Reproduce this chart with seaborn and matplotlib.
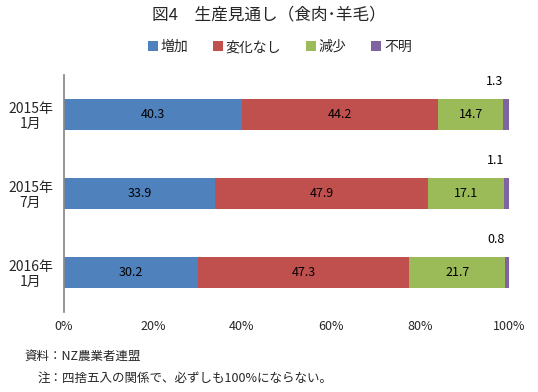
import matplotlib
matplotlib.use("Agg")
import matplotlib.pyplot as plt
import pandas as pd
import seaborn as sns

periods = ["2015年\n1月", "2015年\n7月", "2016年\n1月"]
series = ["増加", "変化なし", "減少", "不明"]
zouka = [40.3, 33.9, 30.2]
henka_nashi = [44.2, 47.9, 47.3]
genshou = [14.7, 17.1, 21.7]
fumei = [1.3, 1.1, 0.8]
colors = ["#4F81BD", "#C0504D", "#9BBB59", "#8064A2"]

sns.set_theme(style="white")
plt.rcParams["font.family"] = ["Noto Sans CJK JP", "DejaVu Sans"]

df = pd.DataFrame({"period": periods, "増加": zouka, "変化なし": henka_nashi,
                   "減少": genshou, "不明": fumei})
cum = df[series].cumsum(axis=1)
total = cum["不明"]

fig = plt.figure(figsize=(5.38, 3.92), dpi=100)
ax = fig.add_axes([0.119, 0.204, 0.827, 0.605])

# stacked bars: draw cumulative totals from the right end down
for name, col in reversed(list(zip(series, colors))):
    sns.barplot(x=cum[name] / total * 100, y=df["period"], color=col, width=0.4,
                orient="h", ax=ax, label=name, saturation=1, linewidth=0)

for i in range(len(periods)):
    left = 0
    for name in series:
        v = df.loc[i, name]
        pct = v / total[i] * 100
        if name == "不明":
            ax.text(left + pct / 2 - 2.5, i - 0.42, f"{v:.1f}", ha="center", va="center",
                    fontsize=9, color="black")
        else:
            ax.text(left + pct / 2, i, f"{v:.1f}", ha="center", va="center",
                    fontsize=9, color="black")
        left += pct

ax.set_xlim(0, 100)
ax.set_ylim(2.5, -0.5)
ax.set_xticks([0, 20, 40, 60, 80, 100])
ax.set_xticklabels([f"{t}%" for t in [0, 20, 40, 60, 80, 100]], fontsize=9)
ax.set_yticks([0.5, 1.5], minor=True)
ax.tick_params(axis="y", which="minor", length=4, color="#888888", width=1)
ax.tick_params(axis="y", which="major", length=0, labelsize=10, pad=8)
ax.tick_params(axis="x", length=0, pad=6)
ax.set_xlabel("")
ax.set_ylabel("")
for lab in ax.get_yticklabels():
    lab.set_multialignment("center")
    lab.set_linespacing(1.1)
for s in ["top", "right", "bottom"]:
    ax.spines[s].set_visible(False)
ax.spines["left"].set_color("#888888")

handles, labels = ax.get_legend_handles_labels()
ax.get_legend().remove()
order = [labels.index(s) for s in series]
fig.legend([handles[k] for k in order], series, loc="center", bbox_to_anchor=(0.52, 0.88),
           ncol=4, frameon=False, fontsize=10, handlelength=0.7, handleheight=0.7,
           handletextpad=0.2, columnspacing=1.8)

fig.text(0.5, 0.963, "図4　生産見通し（食肉･羊毛）", ha="center", va="center", fontsize=12)
fig.text(0.045, 0.09, "資料：NZ農業者連盟", ha="left", va="center", fontsize=9)
fig.text(0.069, 0.035, "注：四捨五入の関係で、必ずしも100%にならない。", ha="left", va="center", fontsize=9)

fig.savefig("out.png", dpi=100)
